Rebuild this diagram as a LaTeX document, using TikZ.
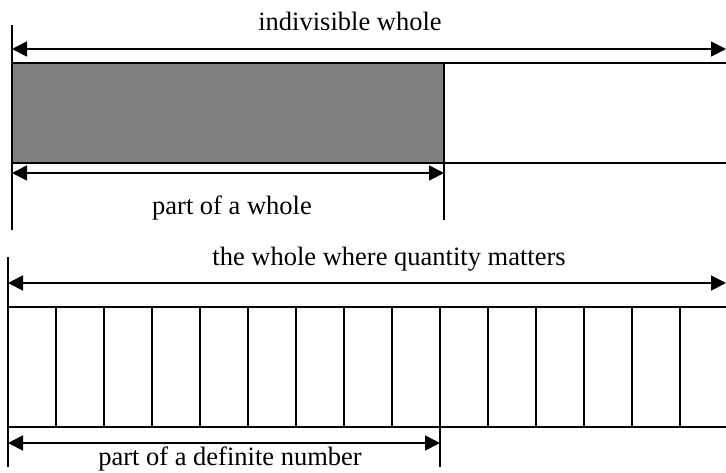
\documentclass[tikz,border=0pt]{standalone}
\usepackage{fontspec}
\setmainfont{Liberation Serif}
\usetikzlibrary{arrows.meta}
\definecolor{barfill}{RGB}{128,128,128}
\tikzset{
  edge/.style={line width=1.6pt, line cap=butt},
  dimarrow/.style={line width=1.8pt, {Triangle[length=15pt,width=15pt]}-{Triangle[length=15pt,width=15pt]}},
  lbl/.style={anchor=base, inner sep=0pt, font=\fontsize{26.5}{30}\selectfont}
}
\begin{document}
\begin{tikzpicture}[x=1pt,y=-1pt]
\useasboundingbox (0,0) rectangle (726,472);
% ---------- top diagram ----------
\coordinate (tl) at (12,25);
\coordinate (tlb) at (12,230);
\coordinate (tA1) at (12,49);
\coordinate (tA2) at (726,49);
\coordinate (rTL) at (12,63);
\coordinate (rTR) at (726,63);
\coordinate (rBL) at (12,163);
\coordinate (rBR) at (726,163);
\coordinate (gTR) at (444,63);
\coordinate (gB) at (444,220);
\coordinate (pA1) at (12,173);
\coordinate (pA2) at (444,173);
\fill[barfill] (rTL) rectangle (444,163);
\draw[edge] (tl) -- (tlb);
\draw[edge] (rTL) -- (rTR);
\draw[edge] (rBL) -- (rBR);
\draw[edge] (gTR) -- (gB);
\draw[dimarrow] (tA1) -- (tA2);
\draw[dimarrow] (pA1) -- (pA2);
\node[lbl] (t1) at (350,30) {indivisible whole};
\node[lbl] (t2) at (232,214) {part of a whole};
% ---------- bottom diagram ----------
\coordinate (bl) at (8,257);
\coordinate (blb) at (8,467);
\coordinate (bA1) at (8,283);
\coordinate (bA2) at (726,283);
\coordinate (sTL) at (8,307);
\coordinate (sTR) at (726,307);
\coordinate (sBL) at (8,427);
\coordinate (sBR) at (726,427);
\coordinate (dT) at (440,307);
\coordinate (dB) at (440,467);
\coordinate (qA1) at (8,443);
\coordinate (qA2) at (440,443);
\draw[edge] (bl) -- (blb);
\draw[edge] (sTL) -- (sTR);
\draw[edge] (sBL) -- (sBR);
\foreach \xx in {56,104,152,200,248,296,344,392,488,536,584,632,680}
  \draw[edge] (\xx,307) -- (\xx,427);
\draw[edge] (dT) -- (dB);
\draw[dimarrow] (bA1) -- (bA2);
\draw[dimarrow] (qA1) -- (qA2);
\node[lbl] (b1) at (389,265) {the whole where quantity matters};
\node[lbl] (b2) at (230,465) {part of a definite number};
\end{tikzpicture}
\end{document}
